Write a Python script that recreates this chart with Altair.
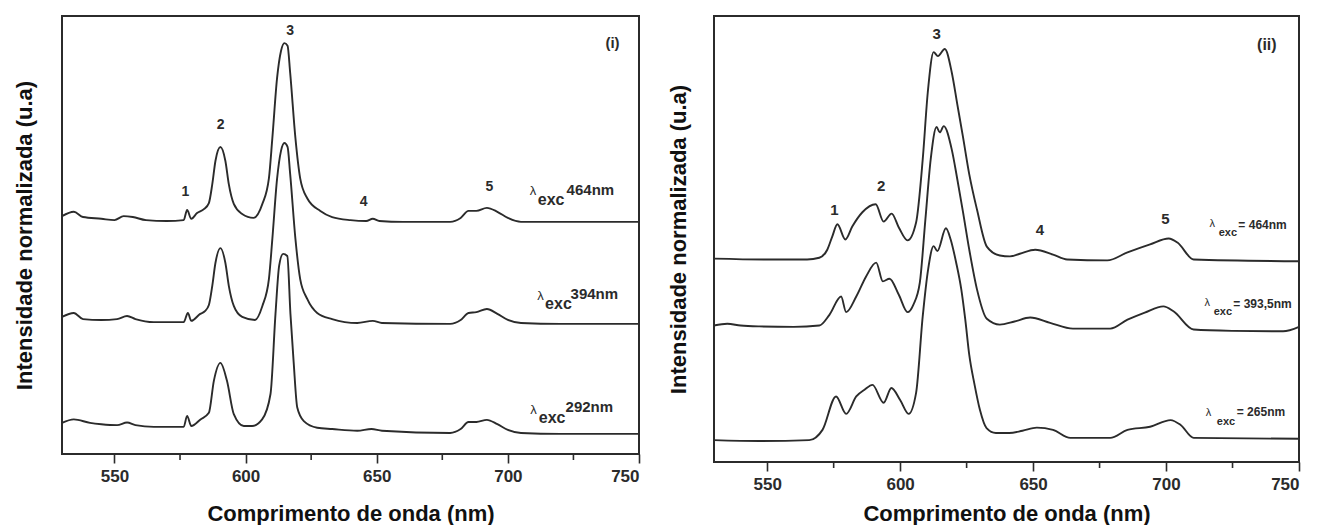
import altair as alt
import pandas as pd

# ---------------- Panel (i) ----------------
I464_X = [530, 534.5, 538, 545, 550, 553.5, 557, 562, 570, 576.4, 577.7, 579.3, 581.5, 584.1, 586, 587.3, 588.5,
          590.4, 592.3, 593.6, 595.5, 598.7, 603, 606.4, 608.9, 610.2, 612, 613.5, 614.8, 616, 617, 619, 620.8,
          623.5, 628.5, 633, 640, 646, 648.5, 651, 660, 678, 682, 685, 688, 692, 696, 700, 705, 720, 750]
I464_Y = [54.3, 55.3, 54.1, 53.7, 53.4, 54.3, 54.1, 53.4, 53.2, 53.4, 55.7, 53.7, 55.0, 55.9, 57.3, 61.6, 66.9,
          70.1, 66.9, 61.6, 57.1, 54.8, 53.9, 57.1, 63.0, 72.1, 85.8, 92.0, 93.8, 93.2, 87.0, 72.1, 63.0,
          58.4, 55.5, 54.1, 53.4, 53.2, 53.7, 53.2, 53.0, 53.0, 53.9, 55.5, 55.5, 56.2, 55.3, 53.9, 53.0, 53.0, 53.0]

I394_X = [530, 534.5, 538, 545, 551, 554.8, 558, 565, 576.4, 578, 579.3, 582.7, 584.5, 586, 587.3, 588.5,
          590.4, 592.3, 593.6, 595.5, 598.7, 603.6, 606.4, 608.9, 610.2, 612, 613.5, 614.8, 616, 617, 619, 620.8,
          623.5, 627.3, 633, 642.6, 648.5, 652, 678, 682, 685, 688, 692, 696, 700, 705, 720, 750]
I394_Y = [31.3, 32.2, 30.8, 30.6, 30.8, 31.5, 30.8, 30.1, 30.1, 32.2, 30.4, 32.0, 32.6, 34.0, 38.4, 43.6,
          47.0, 43.6, 38.4, 33.8, 31.3, 30.6, 33.8, 40.0, 49.1, 62.8, 69.2, 71.0, 70.1, 63.9, 49.1, 40.0,
          35.4, 32.2, 30.8, 29.9, 30.4, 29.9, 29.7, 30.6, 32.2, 32.4, 33.1, 32.0, 30.6, 29.9, 29.7, 29.7]

I292_X = [530, 534.5, 540.7, 545, 551, 554.8, 558, 565, 570, 576.4, 577.7, 579.3, 582.8, 586, 587.9, 590.4,
          592.9, 595.5, 599.3, 602.5, 606.3, 609.5, 611.4, 612.8, 614.3, 615.9, 617.1, 618.3, 619.7, 622.2,
          627.3, 633, 642.6, 648, 652, 678, 682, 685, 688, 692, 696, 700, 705, 720, 750]
I292_Y = [7.1, 7.9, 7.1, 6.8, 6.6, 7.2, 6.6, 6.2, 6.2, 6.2, 8.7, 6.4, 7.9, 9.4, 16.7, 20.8,
          16.7, 9.1, 6.4, 6.4, 7.9, 13.7, 32.0, 43.0, 45.7, 45.2, 32.0, 21.2, 10.6, 7.5,
          6.0, 5.7, 5.3, 5.7, 5.3, 4.8, 5.7, 7.3, 7.3, 7.8, 6.8, 5.5, 4.8, 4.6, 4.6]

# ---------------- Panel (ii) ----------------
J464_X = [530, 550, 565, 569.6, 572.6, 574.5, 576.4, 579.4, 582, 585.8, 590.8, 593.8, 596.8, 599.5, 602.8, 606,
          608.5, 610.4, 612.6, 614.2, 616.8, 619.4, 621.5, 623.6, 626, 628.9, 632.6, 637.5, 641.3, 645, 650.8,
          657.5, 662.8, 677.9, 685.5, 694, 701, 704.3, 710.4, 750]
J464_Y = [45.6, 45.4, 45.4, 45.8, 47.6, 50.6, 53.3, 49.9, 52.8, 56.0, 57.8, 53.9, 55.7, 52.6, 49.7, 53.7,
          67.9, 82.9, 91.9, 91.0, 92.6, 87.4, 80.2, 73.0, 64.5, 56.6, 48.3, 46.3, 46.1, 46.7, 47.6,
          46.5, 45.4, 45.2, 47.0, 48.8, 50.1, 49.2, 45.4, 45.0]

J393_X = [530, 535, 540, 547, 560, 569.6, 573.4, 577.8, 579.7, 583.5, 587.2, 591, 593.5, 596, 599.5, 602.8,
          605, 607.4, 609.5, 611.5, 613.7, 614.9, 616.4, 619.4, 621.5, 623.6, 626, 628.9, 632.6, 637.5, 643,
          648.9, 656.4, 665, 679, 685.5, 692, 699, 702.8, 710.4, 725, 744, 750]
J393_Y = [30.6, 31.0, 30.6, 30.4, 30.3, 30.6, 33.0, 37.1, 33.6, 37.1, 41.6, 44.7, 40.5, 41.1, 37.5, 33.6,
          35.3, 40.2, 54.4, 67.9, 75.1, 73.9, 75.3, 70.1, 63.4, 56.2, 47.6, 38.7, 32.1, 30.8, 31.5,
          32.4, 31.2, 29.9, 29.9, 31.9, 33.5, 34.9, 33.8, 29.7, 29.4, 29.3, 30.3]

J265_X = [530, 547, 565.8, 570.8, 575.9, 579.7, 583.5, 586.6, 589.6, 593.8, 596.7, 600, 603.2, 606, 608.5,
          610.5, 612.6, 614, 617.2, 619, 621, 623, 624.5, 626, 628, 630, 632.5, 636, 641, 646, 651.4, 657.5,
          664, 679, 685.5, 694, 701.7, 705.5, 710.4, 750]
J265_Y = [4.9, 4.7, 4.9, 7.2, 14.7, 10.8, 14.7, 16.2, 17.3, 13.3, 16.6, 13.9, 10.8, 15.5, 32.7,
          43.1, 48.4, 47.3, 52.4, 49.9, 44.9, 38.7, 31.9, 24.0, 17.3, 11.7, 7.6, 6.5, 6.5, 7.0, 7.7, 7.2,
          5.4, 5.4, 7.2, 7.9, 9.4, 8.3, 5.4, 5.2]

# ---------------- Annotations ----------------
PEAKS = ["1", "2", "3", "4", "5"]
I_PEAK_X = [577, 590.5, 617, 645, 693]
I_PEAK_Y = [59.8, 75.1, 96.6, 57.5, 61.0]
J_PEAK_X = [575.3, 592.9, 613.7, 652.6, 699.8]
J_PEAK_Y = [56.6, 61.9, 96.0, 52.1, 54.4]

PANEL_TAGS = ["(i)", "(ii)"]
TAG_X = [739.9, 737.9]
TAG_Y = [93.8, 93.5]

I_EXC_NUM = ["464nm", "394nm", "292nm"]
I_LAM_X = [709.6, 712.4, 709.8]
I_LAM_Y = [60.0, 36.1, 10.0]
I_SUB_X = [711.4, 714.2, 711.8]
I_SUB_Y = [57.9, 34.2, 8.3]
I_NUM_X = [722.4, 723.9, 722.0]
I_NUM_Y = [60.3, 36.6, 10.8]

J_EXC_NUM = ["= 464nm", "= 393,5nm", "= 265nm"]
J_LAM_X = [717.4, 715.5, 716.0]
J_LAM_Y = [53.3, 35.7, 11.0]
J_SUB_X = [719.8, 717.9, 719.1]
J_SUB_Y = [51.4, 33.6, 8.9]
J_NUM_X = [727.2, 725.3, 726.6]
J_NUM_Y = [53.1, 35.5, 11.3]

MAJOR_TICKS = [550, 600, 650, 700, 750]
MINOR_TICKS = [575, 625, 675, 725]

FONT = "Liberation Sans"
INK = "#2b2b2b"


def traces(pairs):
    frames = []
    for name, xs, ys in pairs:
        frames.append(pd.DataFrame({"x": xs, "y": ys, "serie": name}))
    return pd.concat(frames, ignore_index=True)


def panel(df, peak_x, peak_y, tag, tag_x, tag_y,
          lam_x, lam_y, sub_x, sub_y, num_x, num_y, nums,
          w, h, ytitle_pad, xtitle_pad, peak_size, exc_size, num_size, lam_size):
    xscale = alt.Scale(domain=[530, 750], nice=False, zero=False)
    yscale = alt.Scale(domain=[0, 100], nice=False, zero=False)
    xaxis = alt.Axis(values=MAJOR_TICKS, title="Comprimento de onda (nm)", tickSize=9, tickWidth=1.6,
                     tickColor=INK, domain=False, grid=False, labelPadding=5, titlePadding=xtitle_pad)
    yaxis = alt.Axis(title="Intensidade normalizada (u.a)", labels=False, ticks=False, domain=False,
                     grid=False, titlePadding=ytitle_pad, minExtent=0)

    lines = alt.Chart(df).mark_line(color=INK, strokeWidth=1.9, interpolate="monotone").encode(
        x=alt.X("x:Q", scale=xscale, axis=xaxis, title="Comprimento de onda (nm)"),
        y=alt.Y("y:Q", scale=yscale, axis=yaxis, title="Intensidade normalizada (u.a)"),
        detail="serie:N",
    )

    minor = alt.Chart(pd.DataFrame({"x": MINOR_TICKS})).mark_rule(color=INK, strokeWidth=1.6).encode(
        x=alt.X("x:Q", scale=xscale),
        y=alt.value(h),
        y2=alt.value(h + 6),
    )

    def txt(d, **kw):
        return alt.Chart(d).mark_text(font=FONT, color=INK, baseline="middle", **kw).encode(
            x=alt.X("x:Q", scale=xscale),
            y=alt.Y("y:Q", scale=yscale),
            text="t:N",
        )

    peaks = txt(pd.DataFrame({"x": peak_x, "y": peak_y, "t": PEAKS}),
                fontWeight="bold", fontSize=peak_size, align="center")
    tagm = txt(pd.DataFrame({"x": [tag_x], "y": [tag_y], "t": [tag]}),
               fontWeight="bold", fontSize=peak_size + 1, align="center")
    lam = txt(pd.DataFrame({"x": lam_x, "y": lam_y, "t": ["λ"] * 3}),
              fontSize=lam_size, align="center")
    sub = txt(pd.DataFrame({"x": sub_x, "y": sub_y, "t": ["exc"] * 3}),
              fontWeight="bold", fontSize=exc_size, align="left")
    num = txt(pd.DataFrame({"x": num_x, "y": num_y, "t": nums}),
              fontWeight="bold", fontSize=num_size, align="left")

    return alt.layer(lines, minor, peaks, tagm, lam, sub, num).properties(width=w, height=h)


df_i = traces([("464", I464_X, I464_Y), ("394", I394_X, I394_Y), ("292", I292_X, I292_Y)])
df_j = traces([("464", J464_X, J464_Y), ("393,5", J393_X, J393_Y), ("265", J265_X, J265_Y)])

p1 = panel(df_i, I_PEAK_X, I_PEAK_Y, PANEL_TAGS[0], TAG_X[0], TAG_Y[0],
           I_LAM_X, I_LAM_Y, I_SUB_X, I_SUB_Y, I_NUM_X, I_NUM_Y, I_EXC_NUM,
           577, 438, 26, 19, 14, 16, 15, 13)
p2 = panel(df_j, J_PEAK_X, J_PEAK_Y, PANEL_TAGS[1], TAG_X[1], TAG_Y[1],
           J_LAM_X, J_LAM_Y, J_SUB_X, J_SUB_Y, J_NUM_X, J_NUM_Y, J_EXC_NUM,
           585, 446, 24, 11, 15, 11, 12, 11)

chart = alt.hconcat(p1, p2, spacing=22).properties(
    padding={"left": 4, "top": 7, "right": 0, "bottom": 0},
    background="white",
).configure_view(
    stroke=INK, strokeWidth=2
).configure_axis(
    labelFont=FONT, labelFontSize=17, labelFontWeight="bold", labelColor=INK,
    titleFont=FONT, titleFontSize=22, titleFontWeight="bold", titleColor="#111"
)

chart.save("out.html", embed_options={"renderer": "svg", "actions": False})
